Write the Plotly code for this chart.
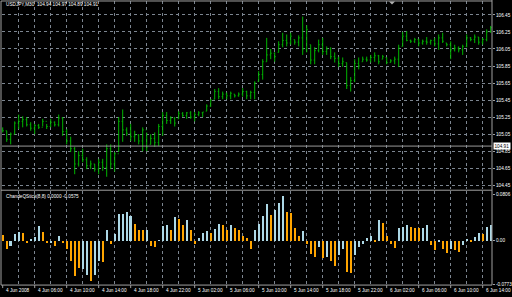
import plotly.graph_objects as go

# ---------------- data ----------------
bar_index = list(range(123))

opens = [105.11, 105.09, 104.99, 105.05, 105.18, 105.20, 105.22, 105.16, 105.12, 105.15,
         105.13, 105.20, 105.14, 105.19, 105.16, 105.24, 105.08, 104.97, 104.88, 104.70,
         104.80, 104.75, 104.68, 104.70, 104.64, 104.72, 104.66, 104.88, 104.70, 104.82,
         105.20, 105.10, 105.06, 105.02, 105.04, 104.97, 105.10, 104.93, 105.00, 104.95,
         105.14, 105.27, 105.21, 105.24, 105.23, 105.29, 105.27, 105.30, 105.25, 105.28,
         105.30, 105.32, 105.38, 105.46, 105.55, 105.49, 105.52, 105.50, 105.52, 105.50,
         105.52, 105.55, 105.50, 105.54, 105.67, 105.75, 105.90, 105.98, 106.00, 106.01,
         106.10, 106.15, 106.12, 106.16, 106.13, 106.18, 106.05, 106.10, 105.92, 106.03,
         106.10, 106.02, 106.05, 105.96, 105.94, 105.88, 105.89, 105.62, 105.68, 105.88,
         105.90, 105.93, 105.92, 105.95, 105.97, 105.93, 105.95, 105.89, 105.91, 105.93,
         106.08, 106.20, 106.15, 106.14, 106.16, 106.12, 106.14, 106.13, 106.15, 106.11,
         106.18, 106.12, 106.10, 106.04, 106.06, 106.04, 106.08, 106.18, 106.16, 106.19,
         106.13, 106.16, 106.25]

highs = [105.13, 105.09, 105.07, 105.20, 105.28, 105.26, 105.25, 105.19, 105.17, 105.17,
         105.23, 105.17, 105.23, 105.20, 105.28, 105.25, 105.11, 105.02, 104.90, 104.85,
         104.88, 104.78, 104.74, 104.70, 104.76, 104.76, 104.93, 104.93, 104.84, 105.25,
         105.34, 105.13, 105.17, 105.09, 105.05, 105.13, 105.07, 105.05, 105.07, 105.17,
         105.31, 105.31, 105.26, 105.25, 105.32, 105.31, 105.31, 105.32, 105.31, 105.32,
         105.31, 105.40, 105.46, 105.58, 105.59, 105.55, 105.54, 105.55, 105.52, 105.54,
         105.59, 105.56, 105.56, 105.67, 105.79, 105.93, 106.18, 106.05, 106.01, 106.14,
         106.24, 106.22, 106.24, 106.16, 106.21, 106.43, 106.33, 106.10, 106.07, 106.16,
         106.18, 106.08, 106.07, 106.01, 105.96, 105.95, 105.89, 105.72, 105.93, 105.95,
         105.96, 105.96, 105.98, 106.01, 105.98, 105.98, 105.95, 105.93, 105.96, 106.10,
         106.25, 106.26, 106.16, 106.18, 106.17, 106.16, 106.19, 106.16, 106.18, 106.22,
         106.24, 106.12, 106.14, 106.10, 106.08, 106.10, 106.22, 106.19, 106.22, 106.19,
         106.18, 106.28, 106.32]

lows = [105.07, 104.96, 104.93, 105.05, 105.11, 105.13, 105.14, 105.09, 105.05, 105.11,
        105.14, 105.11, 105.13, 105.14, 105.14, 105.03, 104.93, 104.84, 104.58, 104.67,
        104.72, 104.64, 104.64, 104.61, 104.58, 104.62, 104.55, 104.64, 104.61, 104.84,
        104.96, 105.03, 104.97, 104.96, 104.93, 104.85, 104.85, 104.93, 104.90, 104.91,
        105.03, 105.17, 105.17, 105.14, 105.23, 105.25, 105.23, 105.23, 105.20, 105.26,
        105.25, 105.32, 105.37, 105.46, 105.46, 105.46, 105.46, 105.46, 105.48, 105.49,
        105.49, 105.46, 105.46, 105.46, 105.67, 105.69, 105.90, 105.93, 105.90, 106.01,
        106.07, 106.08, 106.10, 106.10, 106.08, 105.98, 106.01, 105.87, 105.87, 106.01,
        105.98, 105.98, 105.93, 105.89, 105.84, 105.84, 105.58, 105.55, 105.66, 105.81,
        105.90, 105.90, 105.89, 105.90, 105.87, 105.93, 105.87, 105.89, 105.87, 105.84,
        106.08, 106.14, 106.12, 106.12, 106.08, 106.10, 106.10, 106.10, 106.08, 106.04,
        106.12, 106.08, 105.93, 106.02, 106.01, 105.98, 106.07, 106.14, 106.12, 106.10,
        106.10, 106.14, 106.24]

closes = [105.09, 104.99, 105.05, 105.18, 105.20, 105.22, 105.16, 105.12, 105.15, 105.13,
          105.20, 105.14, 105.19, 105.16, 105.24, 105.08, 104.97, 104.88, 104.70, 104.80,
          104.75, 104.68, 104.70, 104.64, 104.72, 104.66, 104.88, 104.70, 104.82, 105.20,
          105.10, 105.06, 105.02, 105.04, 104.97, 105.10, 104.90, 105.00, 104.95, 105.14,
          105.27, 105.21, 105.24, 105.18, 105.29, 105.27, 105.30, 105.25, 105.28, 105.30,
          105.31, 105.38, 105.45, 105.55, 105.49, 105.52, 105.50, 105.53, 105.50, 105.52,
          105.55, 105.50, 105.54, 105.65, 105.75, 105.90, 105.98, 106.00, 105.96, 106.10,
          106.15, 106.12, 106.20, 106.13, 106.18, 106.05, 106.28, 105.92, 106.03, 106.10,
          106.02, 106.05, 105.96, 105.94, 105.88, 105.90, 105.62, 105.68, 105.88, 105.85,
          105.93, 105.92, 105.95, 105.97, 105.90, 105.96, 105.89, 105.91, 105.93, 106.06,
          106.20, 106.15, 106.14, 106.16, 106.12, 106.14, 106.13, 106.15, 106.11, 106.18,
          106.14, 106.10, 106.04, 106.06, 106.04, 106.08, 106.18, 106.16, 106.19, 106.13,
          106.16, 106.25, 106.30]

qstick = [0.0105, -0.014, -0.009, 0.012, 0.016, 0.014, -0.005, 0.003, 0.006, 0.026,
          0.015, -0.005, -0.005, -0.009, 0.009, -0.005, -0.014, -0.036, -0.062, -0.049,
          -0.050, -0.060, -0.072, -0.061, -0.036, -0.038, 0.018, -0.006, 0.011, 0.047,
          0.047, 0.051, 0.043, 0.029, 0.018, 0.018, 0.018, -0.009, -0.012, 0.0005,
          0.026, 0.028, 0.018, 0.042, 0.039, 0.028, 0.037, 0.019, -0.006, 0.005,
          0.0135, 0.017, 0.0135, 0.020, 0.029, 0.028, 0.018, 0.027, 0.022, 0.019,
          0.008, 0.005, -0.015, 0.018, 0.029, 0.044, 0.064, 0.046, 0.055, 0.067,
          0.079, 0.051, 0.049, 0.022, 0.009, 0.017, -0.006, -0.024, -0.028, -0.012,
          -0.031, -0.029, -0.036, -0.045, -0.026, -0.015, -0.055, -0.057, -0.025, -0.011,
          -0.006, 0.005, 0.009, -0.002, 0.037, 0.032, 0.008, -0.006, -0.013, 0.022,
          0.025, 0.028, 0.024, 0.022, 0.022, 0.023, 0.028, -0.007, -0.017, -0.001,
          -0.015, -0.022, -0.014, -0.017, -0.020, -0.007, 0.0035, -0.003, 0.0065, 0.014,
          0.011, 0.024, 0.028]

# which indicator buffer each bar belongs to (1 = up buffer, 0 = down buffer)
qstick_buffer = [0, 0, 1, 1, 1, 0, 0, 1, 1, 1,
                 0, 0, 1, 0, 1, 0, 0, 0, 0, 0,
                 1, 1, 0, 1, 1, 0, 1, 0, 1, 1,
                 1, 1, 1, 0, 0, 0, 1, 0, 0, 1,
                 1, 1, 0, 1, 0, 0, 1, 0, 0, 1,
                 1, 1, 0, 1, 1, 0, 0, 1, 0, 0,
                 0, 0, 0, 1, 1, 1, 1, 0, 1, 1,
                 1, 0, 0, 0, 0, 1, 0, 0, 0, 1,
                 0, 1, 0, 0, 1, 1, 0, 0, 1, 1,
                 1, 1, 1, 0, 1, 0, 0, 0, 0, 1,
                 1, 1, 0, 0, 0, 1, 1, 0, 0, 1,
                 0, 0, 1, 0, 0, 1, 1, 0, 1, 1,
                 0, 1, 1]

time_label_index = [0, 8, 16, 24, 32, 40, 48, 56, 64, 72, 80, 88, 96, 104, 112, 120]
time_labels = ["4 Jun 2008", "4 Jun 06:00", "4 Jun 10:00", "4 Jun 14:00", "4 Jun 18:00",
               "4 Jun 22:00", "5 Jun 02:00", "5 Jun 06:00", "5 Jun 10:00", "5 Jun 14:00",
               "5 Jun 18:00", "5 Jun 22:00", "6 Jun 02:00", "6 Jun 06:00", "6 Jun 10:00",
               "6 Jun 14:00"]

price_ticks = [106.45, 106.25, 106.05, 105.85, 105.65, 105.45, 105.25, 105.05, 104.85, 104.65, 104.45]
price_tick_labels = ["106.45", "106.25", "106.05", "105.85", "105.65", "105.45",
                     "105.25", "105.05", "104.85", "104.65", "104.45"]
ind_ticks = [0.0806, 0.0, -0.0773]
ind_tick_labels = ["0.0806", "0.00", "-0.0773"]

current_price = 104.91
header_text = "USDJPY,M30  104.94 104.97 104.89 104.91"
ind_text = "ChandeQStick(8,8) 0.0000 -0.0575"

# ---------------- layout helpers ----------------
W, H = 512, 297
def px(x):
    return x / W
def py(y):
    return 1 - y / H

BG = "black"
GRID = "#7c8590"
BORDER = "#a0a0a0"
TXT = "white"
FONT = "Liberation Sans"
FS = 4.7
GREEN = "#00b400"
ORANGE = "#FFA500"
LBLUE = "#ADD8E6"

xr = [-0.175, 122.325]
grid_x = list(range(0, 123, 4))

fig = go.Figure()

fig.add_trace(go.Ohlc(
    x=bar_index, open=opens, high=highs, low=lows, close=closes,
    increasing=dict(line=dict(color=GREEN, width=1)),
    decreasing=dict(line=dict(color=GREEN, width=1)),
    tickwidth=0.25, xaxis="x", yaxis="y", hoverinfo="skip", showlegend=False))

up_x = [i for i, b in zip(bar_index, qstick_buffer) if b == 1]
up_y = [v for v, b in zip(qstick, qstick_buffer) if b == 1]
dn_x = [i for i, b in zip(bar_index, qstick_buffer) if b == 0]
dn_y = [v for v, b in zip(qstick, qstick_buffer) if b == 0]

fig.add_trace(go.Bar(x=up_x, y=up_y, width=0.5, marker=dict(color=LBLUE, line=dict(width=0)),
                     xaxis="x2", yaxis="y2", hoverinfo="skip", showlegend=False))
fig.add_trace(go.Bar(x=dn_x, y=dn_y, width=0.5, marker=dict(color=ORANGE, line=dict(width=0)),
                     xaxis="x2", yaxis="y2", hoverinfo="skip", showlegend=False))

axis_x_common = dict(range=xr, domain=[px(2), px(492)], showticklabels=False,
                     tickvals=grid_x, showgrid=True, gridcolor=GRID, griddash="dot",
                     gridwidth=1, zeroline=False, showline=False, ticks="",
                     fixedrange=True)

fig.update_layout(
    width=W, height=H, margin=dict(l=0, r=0, t=0, b=0),
    paper_bgcolor=BG, plot_bgcolor=BG, barmode="overlay", bargap=0,
    hovermode=False,
    font=dict(family=FONT, size=FS, color=TXT),
    xaxis=dict(anchor="y", rangeslider=dict(visible=False), **axis_x_common),
    xaxis2=dict(anchor="y2", **axis_x_common),
    yaxis=dict(domain=[py(190), py(1)], range=[104.4096, 106.613], side="right",
               anchor="x", tickvals=price_ticks, ticktext=price_tick_labels,
               showgrid=True, gridcolor=GRID, griddash="dot", gridwidth=1,
               zeroline=False, ticks="outside", ticklen=2, tickcolor=BORDER,
               tickfont=dict(family=FONT, size=FS, color=TXT), fixedrange=True),
    yaxis2=dict(domain=[py(287), py(192)], range=[-0.07895, 0.08772], side="right",
                anchor="x2", tickvals=ind_ticks, ticktext=ind_tick_labels,
                showgrid=False, zeroline=False, ticks="outside", ticklen=2,
                tickcolor=BORDER, tickfont=dict(family=FONT, size=FS, color=TXT),
                fixedrange=True),
)

shapes = []
# current price line
shapes.append(dict(type="line", xref="x", yref="y", x0=xr[0], x1=xr[1],
                   y0=current_price, y1=current_price, line=dict(color="#9a9a9a", width=1)))
# borders
for (x0, y0, x1, y1) in [(1, 1, 492, 1), (1, 1, 1, 287), (492, 0, 492, 287),
                         (1, 191.5, 492, 191.5), (1, 287, 492, 287)]:
    shapes.append(dict(type="line", xref="paper", yref="paper", x0=px(x0), y0=py(y0),
                       x1=px(x1), y1=py(y1), line=dict(color=BORDER, width=1)))
# shift marker
shapes.append(dict(type="path", xref="paper", yref="paper",
                   path=f"M {px(389)},{py(1.5)} L {px(395)},{py(1.5)} L {px(392)},{py(4.5)} Z",
                   fillcolor="#b0b0b0", line=dict(width=0)))
# time ticks
for i in time_label_index:
    shapes.append(dict(type="line", xref="x2", yref="paper", x0=i, x1=i,
                       y0=py(287), y1=py(290), line=dict(color=BORDER, width=1)))
fig.update_layout(shapes=shapes)

ann = []
for i, t in zip(time_label_index, time_labels):
    ann.append(dict(x=i + 0.2, y=py(292), xref="x2", yref="paper", text=t,
                    showarrow=False, xanchor="left", yanchor="middle",
                    font=dict(family=FONT, size=FS, color=TXT)))
ann.append(dict(x=px(4), y=py(5), xref="paper", yref="paper", text=header_text,
                showarrow=False, xanchor="left", yanchor="middle",
                font=dict(family=FONT, size=FS, color=TXT)))
ann.append(dict(x=px(4), y=py(198), xref="paper", yref="paper", text=ind_text,
                showarrow=False, xanchor="left", yanchor="middle",
                font=dict(family=FONT, size=FS, color=TXT)))
ann.append(dict(x=px(493), y=current_price, xref="paper", yref="y", text=str(current_price),
                showarrow=False, xanchor="left", yanchor="middle", bgcolor="white",
                borderpad=0.5, font=dict(family=FONT, size=FS, color="black")))
fig.update_layout(annotations=ann)

fig.write_html("out.html", config={"displayModeBar": False})
